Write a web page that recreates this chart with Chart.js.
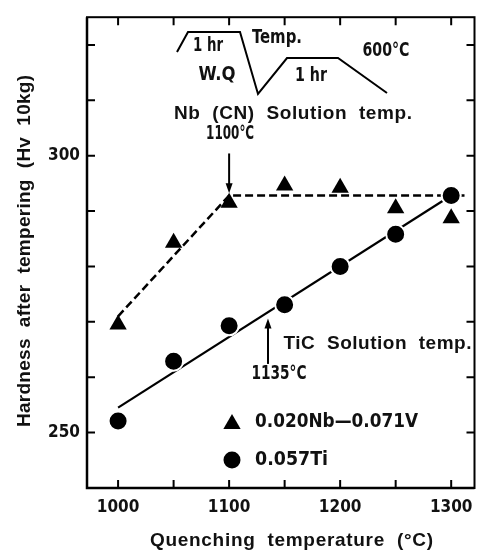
<!DOCTYPE html>
<html>
<head>
<meta charset="utf-8">
<script src="https://cdn.jsdelivr.net/npm/chart.js@4.4.1/dist/chart.umd.min.js"></script>
<style>
  html, body { margin: 0; padding: 0; background: #fff; }
  #wrap { width: 486px; height: 551px; }
</style>
</head>
<body>
<div id="wrap"><canvas id="hardness"></canvas></div>
<script>
// values
const quenchTemps = [1000, 1050, 1100, 1150, 1200, 1250, 1300];
const nbvHardness = [269.5, 284.3, 291.5, 294.6, 294.2, 290.5, 288.7];
const tiHardness = [252.1, 262.9, 269.3, 273.1, 280.0, 285.8, 292.8];
const nbvFitTemps = [1000, 1100, 1312];
const nbvFitHardness = [271.0, 292.8, 292.8];
const tiFitTemps = [1000, 1300];
const tiFitHardness = [254.5, 292.8];
const xLabelTicks = [1000, 1100, 1200, 1300];
const xMinorTicks = [1000, 1050, 1100, 1150, 1200, 1250, 1300];
const yLabelTicks = [250, 300];
const yMinorTicks = [250, 260, 270, 280, 290, 300, 310, 320];
const nbSolutionTemp = 1100;
const tiSolutionTemp = 1135;

const toXY = (xs, ys) => xs.map((x, i) => ({ x: x, y: ys[i] }));

const wordFont = "bold 19px 'Liberation Sans', Arial, sans-serif";
const narrowFont = "bold 20px 'DejaVu Sans Condensed', 'DejaVu Sans', sans-serif";
const tickFont = { family: "'DejaVu Sans Condensed', 'DejaVu Sans', sans-serif", size: 17, weight: 'bold' };

// draw text squeezed or spaced out to a given width, centred on (cx, cy)
function fitText(ctx, text, cx, cy, width, font, angle) {
  ctx.save();
  ctx.font = font;
  ctx.fillStyle = '#111';
  ctx.textBaseline = 'middle';
  ctx.textAlign = 'left';
  const w = ctx.measureText(text).width;
  ctx.translate(cx, cy);
  if (angle) ctx.rotate(angle);
  if (w > width) {
    ctx.scale(width / w, 1);
    ctx.fillText(text, -w / 2, 0);
  } else {
    const gap = text.length > 1 ? (width - w) / (text.length - 1) : 0;
    ctx.letterSpacing = gap + 'px';
    ctx.fillText(text, -width / 2, 0);
  }
  ctx.restore();
}

function arrow(ctx, x, yTail, yTip) {
  const dir = yTip > yTail ? 1 : -1;
  ctx.beginPath();
  ctx.moveTo(x, yTail);
  ctx.lineTo(x, yTip - dir * 8);
  ctx.stroke();
  ctx.beginPath();
  ctx.moveTo(x, yTip);
  ctx.lineTo(x - 3.5, yTip - dir * 10);
  ctx.lineTo(x + 3.5, yTip - dir * 10);
  ctx.closePath();
  ctx.fill();
}

const decorations = {
  id: 'decorations',
  afterDraw(chart) {
    const ctx = chart.ctx;
    const a = chart.chartArea;
    const xs = chart.scales.x;
    const ys = chart.scales.y;
    ctx.save();
    ctx.strokeStyle = '#000';
    ctx.fillStyle = '#000';

    // frame
    ctx.lineWidth = 2;
    ctx.strokeRect(a.left, a.top, a.right - a.left, a.bottom - a.top);
    ctx.lineWidth = 2.5;
    ctx.beginPath();
    ctx.moveTo(a.left, a.top);
    ctx.lineTo(a.left, a.bottom);
    ctx.lineTo(a.right, a.bottom);
    ctx.stroke();

    // inward ticks on all four sides
    ctx.lineWidth = 2;
    ctx.beginPath();
    xMinorTicks.forEach(v => {
      const px = xs.getPixelForValue(v);
      ctx.moveTo(px, a.bottom); ctx.lineTo(px, a.bottom - 8);
      ctx.moveTo(px, a.top); ctx.lineTo(px, a.top + 8);
    });
    yMinorTicks.forEach(v => {
      const py = ys.getPixelForValue(v);
      ctx.moveTo(a.left, py); ctx.lineTo(a.left + 8, py);
      ctx.moveTo(a.right, py); ctx.lineTo(a.right - 8, py);
    });
    ctx.stroke();

    // solution temperature arrows
    ctx.lineWidth = 2;
    const nbX = xs.getPixelForValue(nbSolutionTemp);
    arrow(ctx, nbX, ys.getPixelForValue(300.4), ys.getPixelForValue(293.2));
    const tiX = xs.getPixelForValue(tiSolutionTemp);
    arrow(ctx, tiX, ys.getPixelForValue(262.4), ys.getPixelForValue(270.6));

    // heat treatment sketch
    ctx.lineWidth = 2;
    ctx.lineJoin = 'miter';
    ctx.beginPath();
    [[177, 52], [188, 32], [240, 32], [258, 94], [287, 58], [338, 58], [387, 93]]
      .forEach((p, i) => i ? ctx.lineTo(p[0], p[1]) : ctx.moveTo(p[0], p[1]));
    ctx.stroke();

    fitText(ctx, '1 hr', 208, 46, 30, narrowFont);
    fitText(ctx, 'W.Q', 217, 75, 37, narrowFont);
    fitText(ctx, 'Temp.', 277, 38, 50, narrowFont);
    fitText(ctx, '600°C', 386, 51, 47, narrowFont);
    fitText(ctx, '1 hr', 311, 76, 32, narrowFont);
    fitText(ctx, 'Nb  (CN)  Solution  temp.', 293, 114, 238, wordFont);
    fitText(ctx, '1100°C', nbX + 1, 134, 48, narrowFont);
    fitText(ctx, 'TiC  Solution  temp.', 377.5, 344, 188, wordFont);
    fitText(ctx, '1135°C', tiX + 11, 374, 55, narrowFont);

    // legend
    const lx = 232;
    const ly1 = 424;
    const ly2 = 460;
    ctx.beginPath();
    ctx.moveTo(lx, ly1 - 10);
    ctx.lineTo(lx + 8.66, ly1 + 5);
    ctx.lineTo(lx - 8.66, ly1 + 5);
    ctx.closePath();
    ctx.fill();
    ctx.beginPath();
    ctx.arc(lx, ly2, 8.5, 0, Math.PI * 2);
    ctx.fill();
    fitText(ctx, '0.020Nb\u20140.071V', 336.5, 421.5, 163, narrowFont);
    fitText(ctx, '0.057Ti', 291.5, 460, 73, narrowFont);

    // axis titles
    fitText(ctx, 'Hardness  after  tempering  (Hv  10kg)', 25, 251, 352, wordFont, -Math.PI / 2);
    fitText(ctx, 'Quenching  temperature  (°C)', 291.5, 541, 283, wordFont);
    ctx.restore();
  }
};

new Chart(document.getElementById('hardness').getContext('2d'), {
  type: 'scatter',
  data: {
    datasets: [
      {
        label: '0.020Nb-0.071V',
        data: toXY(quenchTemps, nbvHardness),
        pointStyle: 'triangle',
        pointRadius: 10,
        backgroundColor: '#000',
        borderWidth: 0,
        order: 1
      },
      {
        label: '0.057Ti',
        data: toXY(quenchTemps, tiHardness),
        pointStyle: 'circle',
        pointRadius: 9.5,
        backgroundColor: '#000',
        borderColor: '#fff',
        borderWidth: 2,
        order: 1
      },
      {
        label: 'Nb fit',
        data: toXY(nbvFitTemps, nbvFitHardness),
        showLine: true,
        borderColor: '#000',
        borderWidth: 2.5,
        borderDash: [8, 4],
        pointRadius: 0,
        order: 2
      },
      {
        label: 'Ti fit',
        data: toXY(tiFitTemps, tiFitHardness),
        showLine: true,
        borderColor: '#000',
        borderWidth: 2.2,
        pointRadius: 0,
        order: 2
      }
    ]
  },
  options: {
    responsive: true,
    maintainAspectRatio: false,
    animation: false,
    events: [],
    layout: { padding: { top: 13, right: 2, left: 0, bottom: 0 } },
    plugins: {
      legend: { display: false },
      tooltip: { enabled: false }
    },
    scales: {
      x: {
        type: 'linear',
        min: 972,
        max: 1321,
        afterBuildTicks: s => { s.ticks = xLabelTicks.map(v => ({ value: v })); },
        afterFit: s => { s.height = 63; },
        grid: { display: false, drawTicks: false },
        border: { display: false },
        ticks: {
          color: '#111',
          padding: 9,
          maxRotation: 0,
          autoSkip: false,
          font: tickFont,
          callback: v => String(v)
        }
      },
      y: {
        type: 'linear',
        min: 240,
        max: 325,
        afterBuildTicks: s => { s.ticks = yLabelTicks.map(v => ({ value: v })); },
        afterFit: s => { s.width = 87; },
        grid: { display: false, drawTicks: false },
        border: { display: false },
        ticks: {
          color: '#111',
          padding: 7,
          font: tickFont,
          callback: v => String(v)
        }
      }
    }
  },
  plugins: [decorations]
});
</script>
</body>
</html>
